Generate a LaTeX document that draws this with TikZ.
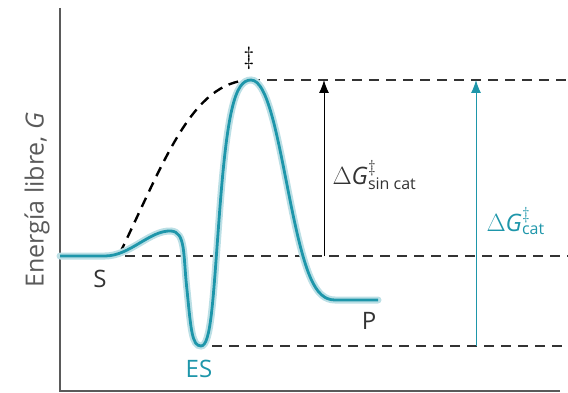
\documentclass[tikz,border=0pt]{standalone}
\usepackage{fontspec}
\setmainfont{Open Sans}
\usetikzlibrary{arrows.meta}
\definecolor{enzteal}{RGB}{30,150,170}
\definecolor{axgray}{RGB}{90,90,90}

\begin{document}
\begin{tikzpicture}[x=1pt,y=-1pt,
    lab/.style={font=\fontsize{24}{28}\selectfont},
    lvl/.style={dashed,dash pattern=on 10pt off 7pt,line width=1.8pt,black!80}]
    \useasboundingbox (0,0) rectangle (568,393);
    % axes
    \draw [axgray,line width=1.8pt] (60,8)--(60,391)--(560,391);
    \node [axgray,rotate=90,font=\fontsize{25}{30}\selectfont] (ylab) at (37,200) {Energía libre, \textit{G}};
    % levels
    \path coordinate (top) at (250,80);
    \path coordinate (s) at (125,256);
    \path coordinate (es) at (212,346);
    \draw [lvl] (top)--(568,80);
    \draw [lvl] (s)--(568,256);
    \draw [lvl] (es)--(568,346);
    % uncatalysed path
    \draw [lvl,line width=2.4pt,black] (120,253) .. controls (165,160) and (192,82) .. (top);
    % catalysed path
    \draw [enzteal!30,line width=7pt,line cap=round]
      (60,256)--(105,256)
      .. controls (130,256) and (150,230) .. (171,231)
      .. controls (186,232) and (183,255) .. (187,290)
      .. controls (191,330) and (192,346) .. (201,346)
      .. controls (211,346) and (213,300) .. (219,220)
      .. controls (227,110) and (235,80) .. (251,80)
      .. controls (268,80) and (278,140) .. (290,200)
      .. controls (305,275) and (315,300) .. (335,300)
      --(378,300);
    \draw [enzteal,line width=2.8pt]
      (60,256)--(105,256)
      .. controls (130,256) and (150,230) .. (171,231)
      .. controls (186,232) and (183,255) .. (187,290)
      .. controls (191,330) and (192,346) .. (201,346)
      .. controls (211,346) and (213,300) .. (219,220)
      .. controls (227,110) and (235,80) .. (251,80)
      .. controls (268,80) and (278,140) .. (290,200)
      .. controls (305,275) and (315,300) .. (335,300)
      --(378,300);
    % energy differences
    \path coordinate (a1) at (324,256);
    \path coordinate (b1) at (324,80);
    \path coordinate (a2) at (476,346);
    \path coordinate (b2) at (476,80);
    \draw [-{Latex[length=13pt,width=10pt]},line width=1pt] (a1)--(b1);
    \draw [-{Latex[length=13pt,width=10pt]},line width=1pt,enzteal] (a2)--(b2);
    \node [lab,black!80,anchor=west] (dgsin) at (329,175) {$\Delta$\textit{G}$^{\ddagger}_{\textrm{\fontsize{16}{16}\selectfont sin cat}}$};
    \node [lab,enzteal,anchor=west] (dgcat) at (483,221) {$\Delta$\textit{G}$^{\ddagger}_{\textrm{\fontsize{16}{16}\selectfont cat}}$};
    % states
    \node [lab] (ts) at (249,58) {$\ddagger$};
    \node [lab,black!80] (S) at (100,279) {S};
    \node [lab,enzteal] (ES) at (199,369) {ES};
    \node [lab,black!80] (P) at (369,321) {P};
\end{tikzpicture}
\end{document}
